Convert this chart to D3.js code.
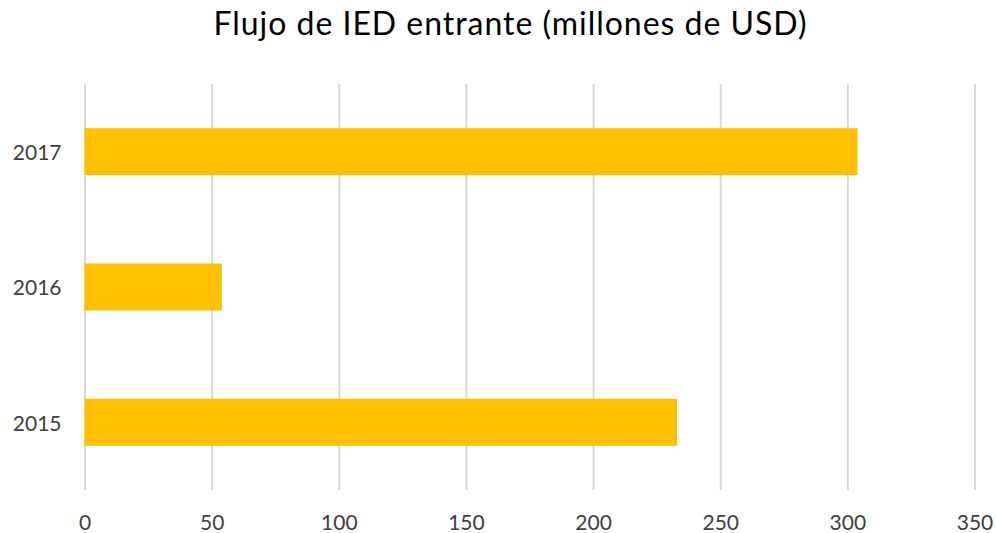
<!DOCTYPE html>
<html>
<head>
<meta charset="utf-8">
<script src="https://cdn.jsdelivr.net/npm/d3@7"></script>
<style>
  html, body { margin: 0; padding: 0; background: #fff; }
  svg { display: block; font-family: Lato, "Open Sans", sans-serif; }
</style>
</head>
<body>
<svg id="chart" width="997" height="533"></svg>
<script>
const title = "Flujo de IED entrante (millones de USD)";
const categories = ["2015", "2016", "2017"];
const values = [233, 54, 304];
const xTicks = [0, 50, 100, 150, 200, 250, 300, 350];

const svg = d3.select("#chart");
const W = 997, H = 533;
const margin = { left: 84.5, right: W - 974.5, top: 84, bottom: H - 490 };

const x = d3.scaleLinear().domain([0, 350]).range([margin.left, W - margin.right]);
const y = d3.scaleBand().domain(categories.slice().reverse())
  .range([margin.top, H - margin.bottom]).paddingInner(0.653).paddingOuter(0.3265);

// gridlines
svg.append("g")
  .attr("transform", `translate(0,${H - margin.bottom})`)
  .call(d3.axisBottom(x).tickValues(xTicks).tickSize(-(H - margin.bottom - margin.top)).tickFormat(""))
  .call(g => g.select(".domain").remove())
  .call(g => g.selectAll(".tick line").attr("stroke", "#d9d9d9").attr("stroke-width", 2));

// bars
svg.append("g").selectAll("rect")
  .data(categories)
  .join("rect")
  .attr("x", x(0))
  .attr("y", d => y(d))
  .attr("width", (d, i) => x(values[i]) - x(0))
  .attr("height", y.bandwidth())
  .attr("fill", "#ffc000");

// x axis labels
const xa = svg.append("g")
  .attr("transform", `translate(0,${H - margin.bottom})`)
  .call(d3.axisBottom(x).tickValues(xTicks).tickSize(0).tickPadding(25))
  .call(g => g.select(".domain").remove());
xa.selectAll("text").attr("font-size", 21).attr("fill", "#404040").attr("font-family", "Lato, sans-serif");

// y axis labels
const ya = svg.append("g")
  .attr("transform", `translate(${margin.left},0)`)
  .call(d3.axisLeft(y).tickSize(0).tickPadding(23))
  .call(g => g.select(".domain").remove());
ya.selectAll("text").attr("font-size", 21).attr("fill", "#404040").attr("font-family", "Lato, sans-serif")
  .attr("dy", "0.4em");

// title
svg.append("text")
  .attr("x", 510).attr("y", 35)
  .attr("text-anchor", "middle")
  .attr("font-size", 32)
  .attr("textLength", 593)
  .attr("lengthAdjust", "spacing")
  .attr("fill", "#000")
  .text(title);
</script>
</body>
</html>
